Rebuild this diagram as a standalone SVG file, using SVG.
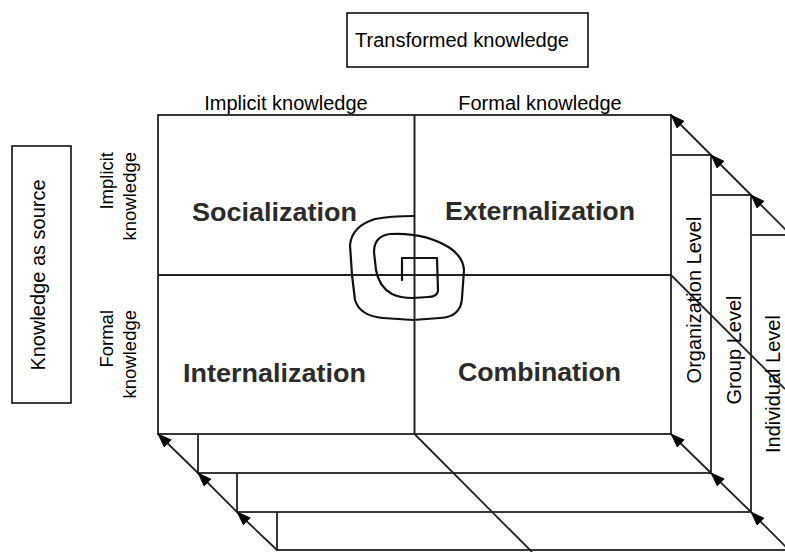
<svg xmlns="http://www.w3.org/2000/svg" width="785" height="552" viewBox="0 0 785 552">
<defs>
<marker id="ah" viewBox="0 0 15 11" refX="14" refY="5.5" markerWidth="15" markerHeight="11" markerUnits="userSpaceOnUse" orient="auto">
<path d="M0,0 L15,5.5 L0,11 z" fill="#000"/>
</marker>
<style>
.lbl{font-family:"Liberation Sans",Arial,sans-serif;font-size:20px;fill:#000}
.side{font-family:"Liberation Sans",Arial,sans-serif;font-size:18.5px;fill:#000}
.q{font-family:"Liberation Sans",Arial,sans-serif;font-size:26px;font-weight:bold;fill:#2b2b2b}
.box{fill:#fff;stroke:#000;stroke-width:1.5}
.layer{fill:#fff;stroke:#222;stroke-width:1.8}
.grid{stroke:#222;stroke-width:2;fill:none}
.diag{stroke:#222;stroke-width:1.8;fill:none}
.arr{stroke:#222;stroke-width:1.8;fill:none;marker-end:url(#ah)}
.spiral{stroke:#111;stroke-width:2.2;fill:none;stroke-linejoin:round;stroke-linecap:round}
</style>
</defs>
<rect width="785" height="552" fill="#fff"/>

<g id="transformed-knowledge">
<rect class="box" x="347" y="13" width="241" height="54"/>
<text class="lbl" x="462" y="47" text-anchor="middle">Transformed knowledge</text>
</g>

<g id="knowledge-as-source">
<rect class="box" x="12" y="146" width="59" height="257"/>
<text class="lbl" transform="translate(45,275) rotate(-90)" text-anchor="middle">Knowledge as source</text>
</g>

<g id="axis-labels">
<text class="lbl" x="286" y="110" text-anchor="middle">Implicit knowledge</text>
<text class="lbl" x="540" y="110" text-anchor="middle">Formal knowledge</text>
<text class="side" transform="translate(113,152) rotate(-90)" text-anchor="end">Implicit</text>
<text class="side" transform="translate(135.5,152) rotate(-90)" text-anchor="end">knowledge</text>
<text class="side" transform="translate(113,310) rotate(-90)" text-anchor="end">Formal</text>
<text class="side" transform="translate(135.5,310) rotate(-90)" text-anchor="end">knowledge</text>
</g>

<g id="individual-layer">
<rect class="layer" x="277" y="235" width="514" height="315"/>
</g>
<g id="group-layer">
<rect class="layer" x="237" y="195" width="514" height="317"/>
</g>
<g id="organization-layer">
<rect class="layer" x="198" y="155" width="513" height="318"/>
</g>
<g id="seci-matrix">
<rect class="layer" x="158" y="115" width="513" height="319"/>
<line class="grid" x1="414.5" y1="115" x2="414.5" y2="434"/>
<line class="grid" x1="158" y1="275" x2="671" y2="275"/>
</g>

<g id="connectors">
<line class="diag" x1="414.5" y1="434" x2="532" y2="552"/>
<line class="diag" x1="671" y1="275" x2="785" y2="389"/>
<line class="arr" x1="711" y1="155" x2="671" y2="115"/>
<line class="arr" x1="751" y1="195" x2="711" y2="155"/>
<line class="arr" x1="791" y1="235" x2="751" y2="195"/>
<line class="arr" x1="198" y1="473" x2="158" y2="434"/>
<line class="arr" x1="237" y1="512" x2="198" y2="473"/>
<line class="arr" x1="277" y1="550" x2="237" y2="512"/>
<line class="arr" x1="711" y1="473" x2="671" y2="434"/>
<line class="arr" x1="751" y1="512" x2="711" y2="473"/>
<line class="arr" x1="789" y1="550" x2="751" y2="512"/>
</g>

<g id="spiral">
<path class="spiral" d="M402,280 L402,258 L437,258 L438,291 Q437,297 428,297 L413,298 Q400,298 392,294 Q379,287 376,270 L374,252 Q374,236 390,234 Q425,232 450,248 Q463,257 464,270 L462,298 Q461,317 440,318 L413,320 L383,318 Q360,316 355,300 L352,275 L350,245 Q352,226 375,219 Q390,216 414,216"/>
</g>

<g id="socialization"><text class="q" x="192" y="221" textLength="165" lengthAdjust="spacingAndGlyphs">Socialization</text></g>
<g id="externalization"><text class="q" x="445" y="220" textLength="190" lengthAdjust="spacingAndGlyphs">Externalization</text></g>
<g id="internalization"><text class="q" x="183" y="382" textLength="183" lengthAdjust="spacingAndGlyphs">Internalization</text></g>
<g id="combination"><text class="q" x="458" y="381" textLength="163" lengthAdjust="spacingAndGlyphs">Combination</text></g>

<g id="level-labels">
<text class="lbl" transform="translate(701,300) rotate(-90)" text-anchor="middle">Organization Level</text>
<text class="lbl" transform="translate(741,350) rotate(-90)" text-anchor="middle">Group Level</text>
<text class="lbl" transform="translate(780,384) rotate(-90)" text-anchor="middle">Individual Level</text>
</g>
</svg>
